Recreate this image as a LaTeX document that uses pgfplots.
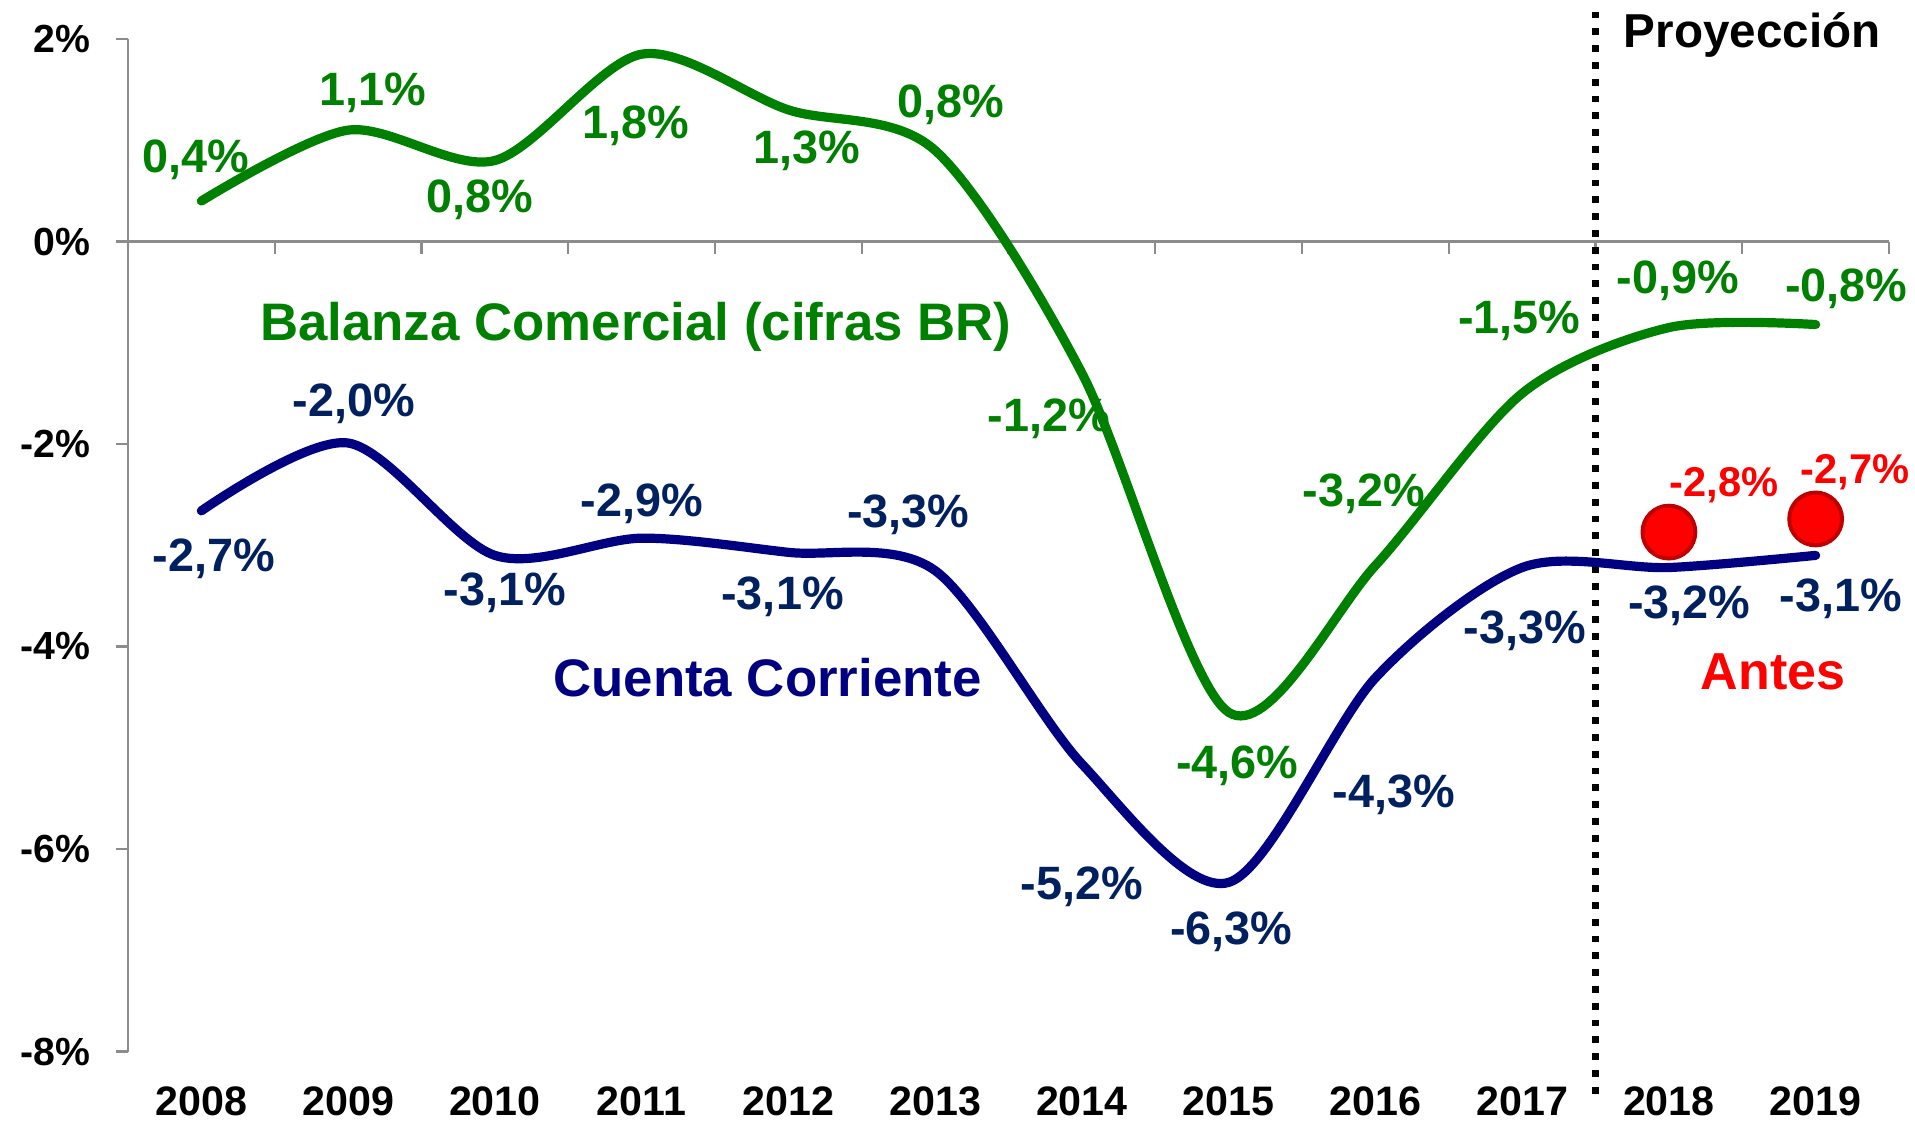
\documentclass[border=0pt]{standalone}
\usepackage{pgfplots}
\pgfplotsset{compat=1.18}
\usepackage{fontspec}
\setmainfont{Liberation Sans}
\definecolor{cgreen}{HTML}{008000}
\definecolor{cnavy}{HTML}{000080}
\definecolor{clab}{HTML}{002060}
\definecolor{cred}{HTML}{FF0000}
\definecolor{cdred}{HTML}{C00000}
\definecolor{cgray}{HTML}{8C8C8C}
\newcommand\lab{\fontsize{11.7}{13}\selectfont\bfseries}
\newcommand\bigname{\fontsize{13.2}{15}\selectfont\bfseries}
\begin{document}
\begin{tikzpicture}
\begin{axis}[
  name=ax,
  scale only axis,
  width=440.25pt, height=253.125pt,
  xmin=-0.5, xmax=11.5, ymin=-8, ymax=2,
  clip=false,
  axis y line*=left,
  axis x line*=bottom,
  x axis line style={draw=none},
  y axis line style={cgray, line width=0.6pt},
  xtick={0,...,11},
  xticklabels={2008,2009,2010,2011,2012,2013,2014,2015,2016,2017,2018,2019},
  x tick style={draw=none},
  xticklabel style={font=\fontsize{10.3}{12}\selectfont\bfseries, yshift=-2.3pt},
  ytick={-8,-6,-4,-2,0,2},
  yticklabels={-8\%,-6\%,-4\%,-2\%,0\%,2\%},
  y tick style={cgray, line width=0.6pt},
  tick align=outside,
  major tick length=3pt,
  yticklabel style={font=\fontsize{9.8}{11}\selectfont\bfseries, xshift=-3pt},
]
% zero line with ticks
\draw[cgray, line width=0.6pt] (axis cs:-0.5,0) -- (axis cs:11.5,0);
\pgfplotsinvokeforeach{0.5,1.5,2.5,3.5,4.5,5.5,6.5,7.5,8.5,9.5,10.5,11.5}{
  \draw[cgray, line width=0.6pt] (axis cs:#1,0) -- ([yshift=-3.2pt]axis cs:#1,0);
}
% projection divider
\draw[black, line width=1.7pt, dash pattern=on 1.7pt off 2.5pt] (axis cs:9.5,2.27) -- (axis cs:9.5,-8.43);

% Balanza Comercial
\addplot[cgreen, line width=2.3pt, smooth, line cap=round] coordinates {
 (0,0.4) (1,1.1) (2,0.8) (3,1.85) (4,1.3) (5,0.9) (6,-1.3) (7,-4.65) (8,-3.2) (9,-1.5) (10,-0.85) (11,-0.82)};
% Cuenta Corriente
\addplot[cnavy, line width=2.3pt, smooth, line cap=round] coordinates {
 (0,-2.66) (1,-1.99) (2,-3.1) (3,-2.93) (4,-3.07) (5,-3.25) (6,-5.16) (7,-6.33) (8,-4.31) (9,-3.22) (10,-3.22) (11,-3.1)};
% Antes
\addplot[only marks, mark=*, mark size=6.6pt, mark options={fill=cred, draw=cdred, line width=1pt}] coordinates {
 (10,-2.87) (11,-2.74)};

% green labels
\begin{scope}[every node/.style={font=\lab, text=cgreen}]
\node at (axis cs:-0.04,0.81) {0,4\%};
\node at (axis cs:1.17,1.47) {1,1\%};
\node at (axis cs:1.9,0.41) {0,8\%};
\node at (axis cs:2.96,1.14) {1,8\%};
\node at (axis cs:4.125,0.90) {1,3\%};
\node at (axis cs:5.11,1.35) {0,8\%};
\node at (axis cs:5.775,-1.75) {-1,2\%};
\node at (axis cs:7.06,-5.18) {-4,6\%};
\node at (axis cs:7.92,-2.49) {-3,2\%};
\node at (axis cs:8.98,-0.78) {-1,5\%};
\node at (axis cs:10.06,-0.39) {-0,9\%};
\node at (axis cs:11.21,-0.47) {-0,8\%};
\end{scope}
% blue labels
\begin{scope}[every node/.style={font=\lab, text=clab}]
\node at (axis cs:0.083,-3.13) {-2,7\%};
\node at (axis cs:1.04,-1.60) {-2,0\%};
\node at (axis cs:2.067,-3.47) {-3,1\%};
\node at (axis cs:3.0,-2.59) {-2,9\%};
\node at (axis cs:3.96,-3.51) {-3,1\%};
\node at (axis cs:4.817,-2.70) {-3,3\%};
\node at (axis cs:6.0,-6.37) {-5,2\%};
\node at (axis cs:7.017,-6.82) {-6,3\%};
\node at (axis cs:8.125,-5.46) {-4,3\%};
\node at (axis cs:9.017,-3.84) {-3,3\%};
\node at (axis cs:10.14,-3.60) {-3,2\%};
\node at (axis cs:11.17,-3.53) {-3,1\%};
\end{scope}
% red labels
\node[font=\fontsize{10.4}{12}\selectfont\bfseries, text=cred] at (axis cs:10.375,-2.41) {-2,8\%};
\node[font=\fontsize{10.4}{12}\selectfont\bfseries, text=cred] at (axis cs:11.267,-2.28) {-2,7\%};
\node[font=\fontsize{13}{15}\selectfont\bfseries, text=cred] at (axis cs:10.71,-4.25) {Antes};
% series names
\node[font=\bigname, text=cgreen] at (axis cs:2.96,-0.84) {Balanza Comercial (cifras BR)};
\node[font=\bigname, text=cnavy] at (axis cs:3.858,-4.31) {Cuenta Corriente};
\node[font=\fontsize{11.9}{14}\selectfont\bfseries, text=black] at (axis cs:10.567,2.04) {Proyección};
\end{axis}
\pgfresetboundingbox
\useasboundingbox ([xshift=-32pt,yshift=-17.125pt]ax.south west) rectangle ([xshift=6.5pt,yshift=9.75pt]ax.north east);
\end{tikzpicture}
\end{document}
